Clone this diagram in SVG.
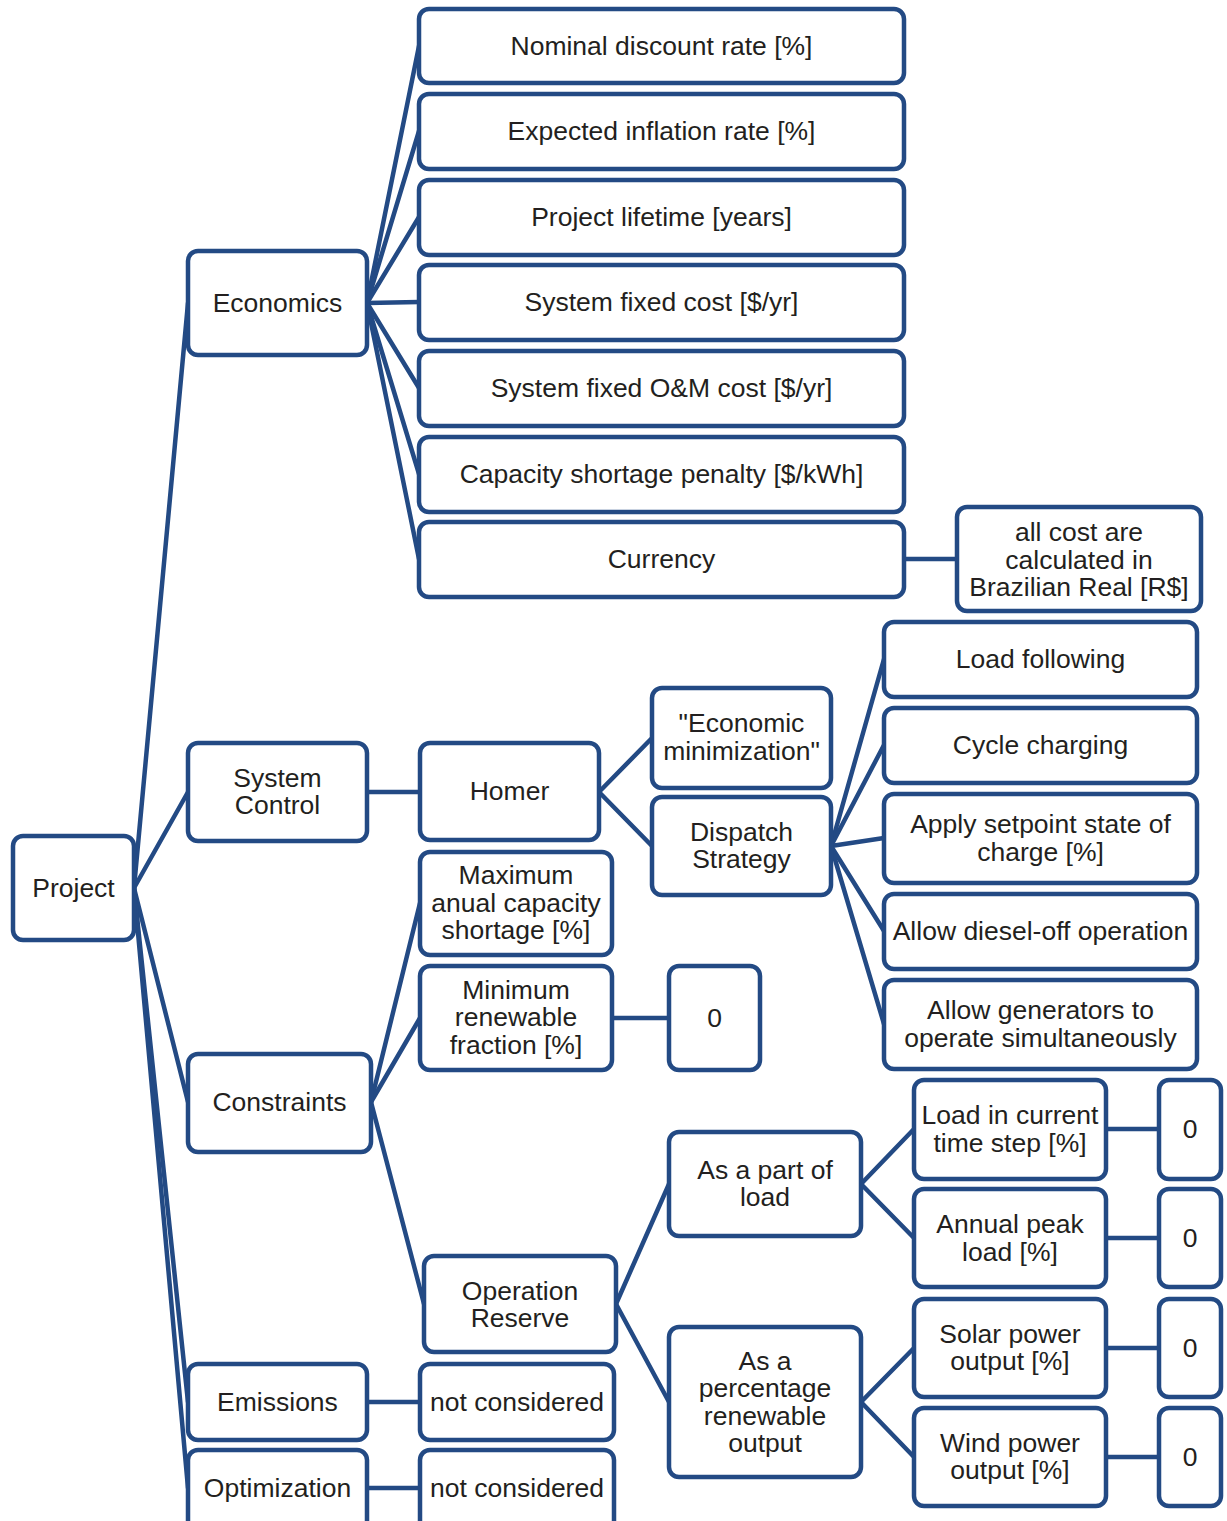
<svg xmlns="http://www.w3.org/2000/svg" width="1227" height="1521" viewBox="0 0 1227 1521">
  <style>
    .box { fill: #ffffff; stroke: #234a84; stroke-width: 4.5; }
    .link { stroke: #234a84; stroke-width: 4.5; fill: none; stroke-linecap: round; }
    text { font-family: "Liberation Sans", Arial, sans-serif; font-size: 26.5px; fill: #231f20; text-anchor: middle; }
  </style>
  <rect width="1227" height="1521" fill="#ffffff"/>

  <!-- connectors -->
  <g id="connectors">
    <!-- Project to categories -->
    <line class="link" x1="134" y1="888" x2="188" y2="303"/>
    <line class="link" x1="134" y1="888" x2="188" y2="792"/>
    <line class="link" x1="134" y1="888" x2="188" y2="1102"/>
    <line class="link" x1="134" y1="888" x2="188" y2="1402"/>
    <line class="link" x1="134" y1="888" x2="188" y2="1488"/>
    <!-- Economics parameters -->
    <line class="link" x1="367" y1="303" x2="419" y2="46"/>
    <line class="link" x1="367" y1="303" x2="419" y2="131"/>
    <line class="link" x1="367" y1="303" x2="419" y2="217"/>
    <line class="link" x1="367" y1="303" x2="419" y2="302"/>
    <line class="link" x1="367" y1="303" x2="419" y2="388"/>
    <line class="link" x1="367" y1="303" x2="419" y2="474"/>
    <line class="link" x1="367" y1="303" x2="419" y2="559"/>
    <line class="link" x1="904" y1="559" x2="957" y2="559"/>
    <!-- System control -->
    <line class="link" x1="367" y1="792" x2="420" y2="792"/>
    <line class="link" x1="599" y1="792" x2="652" y2="738"/>
    <line class="link" x1="599" y1="792" x2="652" y2="846"/>
    <line class="link" x1="831" y1="846" x2="884" y2="659"/>
    <line class="link" x1="831" y1="846" x2="884" y2="745"/>
    <line class="link" x1="831" y1="846" x2="884" y2="838"/>
    <line class="link" x1="831" y1="846" x2="884" y2="931"/>
    <line class="link" x1="831" y1="846" x2="884" y2="1024"/>
    <!-- Constraints -->
    <line class="link" x1="371" y1="1102" x2="420" y2="903"/>
    <line class="link" x1="371" y1="1102" x2="420" y2="1018"/>
    <line class="link" x1="371" y1="1102" x2="424" y2="1304"/>
    <line class="link" x1="612" y1="1018" x2="669" y2="1018"/>
    <line class="link" x1="616" y1="1304" x2="669" y2="1184"/>
    <line class="link" x1="616" y1="1304" x2="669" y2="1402"/>
    <line class="link" x1="861" y1="1184" x2="914" y2="1129"/>
    <line class="link" x1="861" y1="1184" x2="914" y2="1238"/>
    <line class="link" x1="861" y1="1402" x2="914" y2="1348"/>
    <line class="link" x1="861" y1="1402" x2="914" y2="1457"/>
    <line class="link" x1="1106" y1="1129" x2="1159" y2="1129"/>
    <line class="link" x1="1106" y1="1238" x2="1159" y2="1238"/>
    <line class="link" x1="1106" y1="1348" x2="1159" y2="1348"/>
    <line class="link" x1="1106" y1="1457" x2="1159" y2="1457"/>
    <!-- Emissions / Optimization -->
    <line class="link" x1="367" y1="1402" x2="420" y2="1402"/>
    <line class="link" x1="367" y1="1488" x2="420" y2="1488"/>
  </g>

  <!-- root -->
  <g id="project">
    <rect class="box" x="13" y="836" width="121" height="104" rx="10"/>
    <text x="73.5" y="897">Project</text>
  </g>

  <!-- Economics branch -->
  <g id="economics">
    <rect class="box" x="188" y="251" width="179" height="104" rx="10"/>
    <text x="277.5" y="312">Economics</text>
  </g>
  <g id="nominal-discount-rate">
    <rect class="box" x="419" y="9" width="485" height="74" rx="10"/>
    <text x="661.5" y="55">Nominal discount rate [%]</text>
  </g>
  <g id="expected-inflation-rate">
    <rect class="box" x="419" y="94" width="485" height="75" rx="10"/>
    <text x="661.5" y="140">Expected inflation rate [%]</text>
  </g>
  <g id="project-lifetime">
    <rect class="box" x="419" y="180" width="485" height="75" rx="10"/>
    <text x="661.5" y="226">Project lifetime [years]</text>
  </g>
  <g id="system-fixed-cost">
    <rect class="box" x="419" y="265" width="485" height="75" rx="10"/>
    <text x="661.5" y="311">System fixed cost [$/yr]</text>
  </g>
  <g id="system-fixed-om-cost">
    <rect class="box" x="419" y="351" width="485" height="75" rx="10"/>
    <text x="661.5" y="397">System fixed O&amp;M cost [$/yr]</text>
  </g>
  <g id="capacity-shortage-penalty">
    <rect class="box" x="419" y="437" width="485" height="75" rx="10"/>
    <text x="661.5" y="483">Capacity shortage penalty [$/kWh]</text>
  </g>
  <g id="currency">
    <rect class="box" x="419" y="522" width="485" height="75" rx="10"/>
    <text x="661.5" y="568">Currency</text>
  </g>
  <g id="currency-note">
    <rect class="box" x="957" y="507" width="244" height="104" rx="10"/>
    <text x="1079" y="541">all cost are</text>
    <text x="1079" y="569">calculated in</text>
    <text x="1079" y="596">Brazilian Real [R$]</text>
  </g>

  <!-- System Control branch -->
  <g id="system-control">
    <rect class="box" x="188" y="743" width="179" height="98" rx="10"/>
    <text x="277.5" y="787">System</text>
    <text x="277.5" y="814">Control</text>
  </g>
  <g id="homer">
    <rect class="box" x="420" y="743" width="179" height="97" rx="10"/>
    <text x="509.5" y="800">Homer</text>
  </g>
  <g id="economic-minimization">
    <rect class="box" x="652" y="688" width="179" height="100" rx="10"/>
    <text x="741.5" y="732">"Economic</text>
    <text x="741.5" y="760">minimization"</text>
  </g>
  <g id="dispatch-strategy">
    <rect class="box" x="652" y="797" width="179" height="98" rx="10"/>
    <text x="741.5" y="841">Dispatch</text>
    <text x="741.5" y="868">Strategy</text>
  </g>
  <g id="load-following">
    <rect class="box" x="884" y="622" width="313" height="75" rx="10"/>
    <text x="1040.5" y="668">Load following</text>
  </g>
  <g id="cycle-charging">
    <rect class="box" x="884" y="708" width="313" height="75" rx="10"/>
    <text x="1040.5" y="754">Cycle charging</text>
  </g>
  <g id="setpoint-soc">
    <rect class="box" x="884" y="794" width="313" height="89" rx="10"/>
    <text x="1040.5" y="833">Apply setpoint state of</text>
    <text x="1040.5" y="861">charge [%]</text>
  </g>
  <g id="diesel-off">
    <rect class="box" x="884" y="894" width="313" height="75" rx="10"/>
    <text x="1040.5" y="940">Allow diesel-off operation</text>
  </g>
  <g id="generators-simultaneous">
    <rect class="box" x="884" y="980" width="313" height="89" rx="10"/>
    <text x="1040.5" y="1019">Allow generators to</text>
    <text x="1040.5" y="1047">operate simultaneously</text>
  </g>

  <!-- Constraints branch -->
  <g id="constraints">
    <rect class="box" x="188" y="1054" width="183" height="98" rx="10"/>
    <text x="279.5" y="1111">Constraints</text>
  </g>
  <g id="max-capacity-shortage">
    <rect class="box" x="420" y="852" width="192" height="103" rx="10"/>
    <text x="516" y="884">Maximum</text>
    <text x="516" y="912">anual capacity</text>
    <text x="516" y="939">shortage [%]</text>
  </g>
  <g id="min-renewable-fraction">
    <rect class="box" x="420" y="966" width="192" height="104" rx="10"/>
    <text x="516" y="999">Minimum</text>
    <text x="516" y="1026">renewable</text>
    <text x="516" y="1054">fraction [%]</text>
  </g>
  <g id="min-renewable-value">
    <rect class="box" x="669" y="966" width="91" height="104" rx="10"/>
    <text x="714.5" y="1027">0</text>
  </g>
  <g id="operation-reserve">
    <rect class="box" x="424" y="1256" width="192" height="96" rx="10"/>
    <text x="520" y="1300">Operation</text>
    <text x="520" y="1327">Reserve</text>
  </g>
  <g id="part-of-load">
    <rect class="box" x="669" y="1132" width="192" height="104" rx="10"/>
    <text x="765" y="1179">As a part of</text>
    <text x="765" y="1206">load</text>
  </g>
  <g id="percentage-renewable">
    <rect class="box" x="669" y="1327" width="192" height="150" rx="10"/>
    <text x="765" y="1370">As a</text>
    <text x="765" y="1397">percentage</text>
    <text x="765" y="1425">renewable</text>
    <text x="765" y="1452">output</text>
  </g>
  <g id="load-current-step">
    <rect class="box" x="914" y="1080" width="192" height="99" rx="10"/>
    <text x="1010" y="1124">Load in current</text>
    <text x="1010" y="1152">time step [%]</text>
  </g>
  <g id="annual-peak-load">
    <rect class="box" x="914" y="1189" width="192" height="98" rx="10"/>
    <text x="1010" y="1233">Annual peak</text>
    <text x="1010" y="1261">load [%]</text>
  </g>
  <g id="solar-output">
    <rect class="box" x="914" y="1299" width="192" height="98" rx="10"/>
    <text x="1010" y="1343">Solar power</text>
    <text x="1010" y="1370">output [%]</text>
  </g>
  <g id="wind-output">
    <rect class="box" x="914" y="1408" width="192" height="98" rx="10"/>
    <text x="1010" y="1452">Wind power</text>
    <text x="1010" y="1479">output [%]</text>
  </g>
  <g id="load-current-value">
    <rect class="box" x="1159" y="1080" width="62" height="99" rx="10"/>
    <text x="1190" y="1138">0</text>
  </g>
  <g id="annual-peak-value">
    <rect class="box" x="1159" y="1189" width="62" height="98" rx="10"/>
    <text x="1190" y="1247">0</text>
  </g>
  <g id="solar-value">
    <rect class="box" x="1159" y="1299" width="62" height="98" rx="10"/>
    <text x="1190" y="1357">0</text>
  </g>
  <g id="wind-value">
    <rect class="box" x="1159" y="1408" width="62" height="98" rx="10"/>
    <text x="1190" y="1466">0</text>
  </g>

  <!-- Emissions and Optimization -->
  <g id="emissions">
    <rect class="box" x="188" y="1364" width="179" height="76" rx="10"/>
    <text x="277.5" y="1411">Emissions</text>
  </g>
  <g id="emissions-value">
    <rect class="box" x="420" y="1364" width="194" height="76" rx="10"/>
    <text x="517" y="1411">not considered</text>
  </g>
  <g id="optimization">
    <rect class="box" x="188" y="1450" width="179" height="84" rx="10"/>
    <text x="277.5" y="1497">Optimization</text>
  </g>
  <g id="optimization-value">
    <rect class="box" x="420" y="1450" width="194" height="84" rx="10"/>
    <text x="517" y="1497">not considered</text>
  </g>
</svg>
